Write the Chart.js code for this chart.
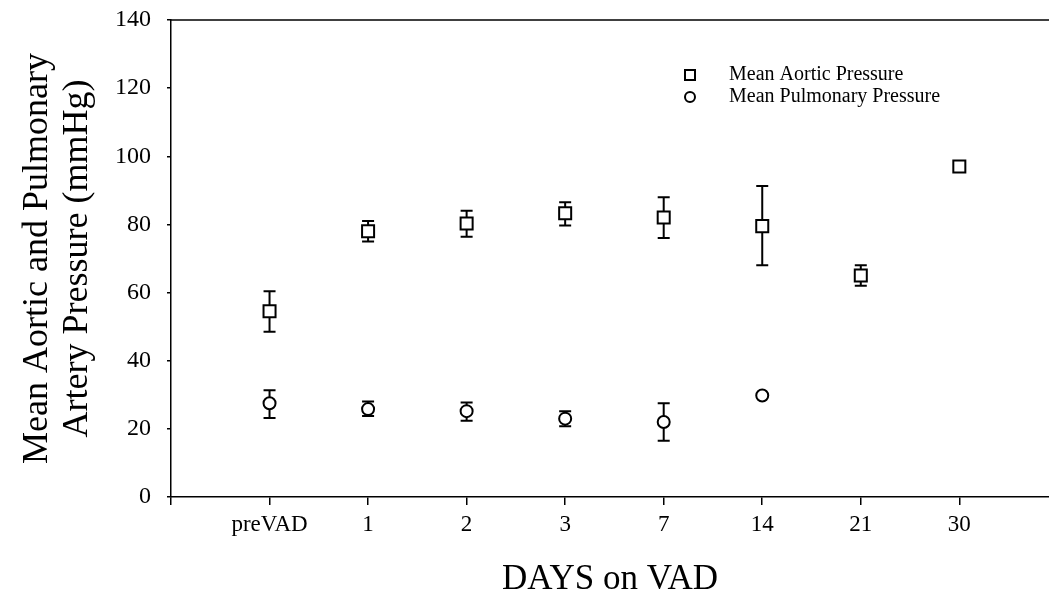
<!DOCTYPE html>
<html>
<head>
<meta charset="utf-8">
<script src="https://cdn.jsdelivr.net/npm/chart.js@4.4.1/dist/chart.umd.min.js"></script>
<style>
  html, body { margin: 0; padding: 0; background: #fff; }
  #wrap { width: 1049px; height: 601px; }
</style>
</head>
<body>
<div id="wrap"><canvas id="chart" width="1049" height="601"></canvas></div>
<script>
// x categories (days on VAD)
const days = ['preVAD', '1', '2', '3', '7', '14', '21', '30'];

// mean aortic pressure and its error bar ends
const aorticMean = [54.5, 78, 80.3, 83.3, 82, 79.5, 65, 97];
const aorticLow = [48.5, 75, 76.4, 79.7, 76, 68, 62, null];
const aorticHigh = [60.4, 81, 84, 86.5, 88, 91.3, 68, null];

// mean pulmonary pressure and its error bar ends
const pulmMean = [27.5, 25.8, 25.2, 23, 22, 29.8, null, null];
const pulmLow = [23.2, 23.8, 22.4, 20.8, 16.5, null, null, null];
const pulmHigh = [31.3, 28, 27.7, 25.2, 27.5, null, null, null];

const yTicks = [0, 20, 40, 60, 80, 100, 120, 140];

const serif = "'Liberation Serif', 'DejaVu Serif', serif";

function toPoints(values) {
    let pts = [];
    values.forEach((v, i) => {
        if (v !== null) pts.push({ x: i + 1, y: v });
    });
    return pts;
}

// error bars drawn under the markers
const errorBars = {
    id: 'errorBars',
    beforeDatasetsDraw(chart) {
        const ctx = chart.ctx;
        const xs = chart.scales.x, ys = chart.scales.y;
        const sets = [[aorticLow, aorticHigh], [pulmLow, pulmHigh]];
        ctx.save();
        ctx.strokeStyle = '#000';
        ctx.lineWidth = 2;
        sets.forEach(([low, high]) => {
            low.forEach((lo, i) => {
                if (lo === null || high[i] === null) return;
                let x = xs.getPixelForValue(i + 1);
                let y1 = ys.getPixelForValue(lo);
                let y2 = ys.getPixelForValue(high[i]);
                ctx.beginPath();
                ctx.moveTo(x, y1); ctx.lineTo(x, y2);
                ctx.moveTo(x - 6, y1); ctx.lineTo(x + 6, y1);
                ctx.moveTo(x - 6, y2); ctx.lineTo(x + 6, y2);
                ctx.stroke();
            });
        });
        ctx.restore();
    }
};

// top frame line and the legend inside the plot
const frameAndLegend = {
    id: 'frameAndLegend',
    afterDraw(chart) {
        const ctx = chart.ctx;
        const area = chart.chartArea;
        ctx.save();
        ctx.strokeStyle = '#000';
        ctx.lineWidth = 1.5;
        ctx.beginPath();
        ctx.moveTo(area.left, area.top);
        ctx.lineTo(area.right, area.top);
        ctx.stroke();

        ctx.font = '20px ' + serif;
        ctx.fillStyle = '#000';
        ctx.textBaseline = 'middle';
        ctx.lineWidth = 2;
        chart.data.datasets.forEach((ds, i) => {
            let y = 75 + i * 22;
            let x = 690;
            ctx.beginPath();
            if (ds.pointStyle === 'rect') {
                ctx.rect(x - 5, y - 5, 10, 10);
            } else {
                ctx.arc(x, y, 5, 0, Math.PI * 2);
            }
            ctx.stroke();
            ctx.fillText(ds.label, 729, y);
        });
        ctx.restore();
    }
};

new Chart(document.getElementById('chart').getContext('2d'), {
    type: 'scatter',
    data: {
        datasets: [{
            label: 'Mean Aortic Pressure',
            data: toPoints(aorticMean),
            pointStyle: 'rect',
            pointRadius: 8.5,
            borderColor: '#000',
            backgroundColor: '#fff',
            borderWidth: 2
        }, {
            label: 'Mean Pulmonary Pressure',
            data: toPoints(pulmMean),
            pointStyle: 'circle',
            pointRadius: 6,
            borderColor: '#000',
            backgroundColor: '#fff',
            borderWidth: 2
        }]
    },
    options: {
        responsive: false,
        animation: false,
        layout: { autoPadding: false, padding: { top: 20, right: 0, left: 0, bottom: 0 } },
        plugins: {
            legend: { display: false },
            tooltip: { enabled: false }
        },
        scales: {
            x: {
                type: 'linear',
                min: 0,
                max: 8.91,
                afterBuildTicks: (scale) => {
                    scale.ticks = [0].concat(days.map((d, i) => i + 1)).map(v => ({ value: v }));
                },
                afterFit: (scale) => {
                    scale.height = 104;
                    scale.paddingRight = 0;
                    scale.paddingLeft = 0;
                },
                ticks: {
                    autoSkip: false,
                    maxRotation: 0,
                    padding: 6,
                    color: '#000',
                    font: { family: serif, size: 23 },
                    callback: (v) => days[v - 1] || ''
                },
                grid: { drawOnChartArea: false, drawTicks: true, tickLength: 8, color: '#000', lineWidth: 1.5 },
                border: { display: true, color: '#000', width: 1.5 },
                title: {
                    display: true,
                    text: 'DAYS on VAD',
                    color: '#000',
                    font: { family: serif, size: 35 },
                    padding: { top: 0, bottom: 0 }
                }
            },
            y: {
                min: 0,
                max: 140,
                afterBuildTicks: (scale) => {
                    scale.ticks = yTicks.map(v => ({ value: v }));
                },
                afterFit: (scale) => {
                    scale.width = 171;
                    scale.paddingTop = 0;
                    scale.paddingBottom = 0;
                },
                ticks: {
                    padding: 16,
                    color: '#000',
                    font: { family: serif, size: 24 }
                },
                grid: { drawOnChartArea: false, drawTicks: true, tickLength: 4, color: '#000', lineWidth: 1.5 },
                border: { display: true, color: '#000', width: 1.5 },
                title: {
                    display: true,
                    text: ['Mean Aortic and Pulmonary', 'Artery Pressure (mmHg)'],
                    color: '#000',
                    font: { family: serif, size: 36, lineHeight: 1.1 },
                    padding: { top: 18, bottom: 0 }
                }
            }
        }
    },
    plugins: [errorBars, frameAndLegend]
});
</script>
</body>
</html>
